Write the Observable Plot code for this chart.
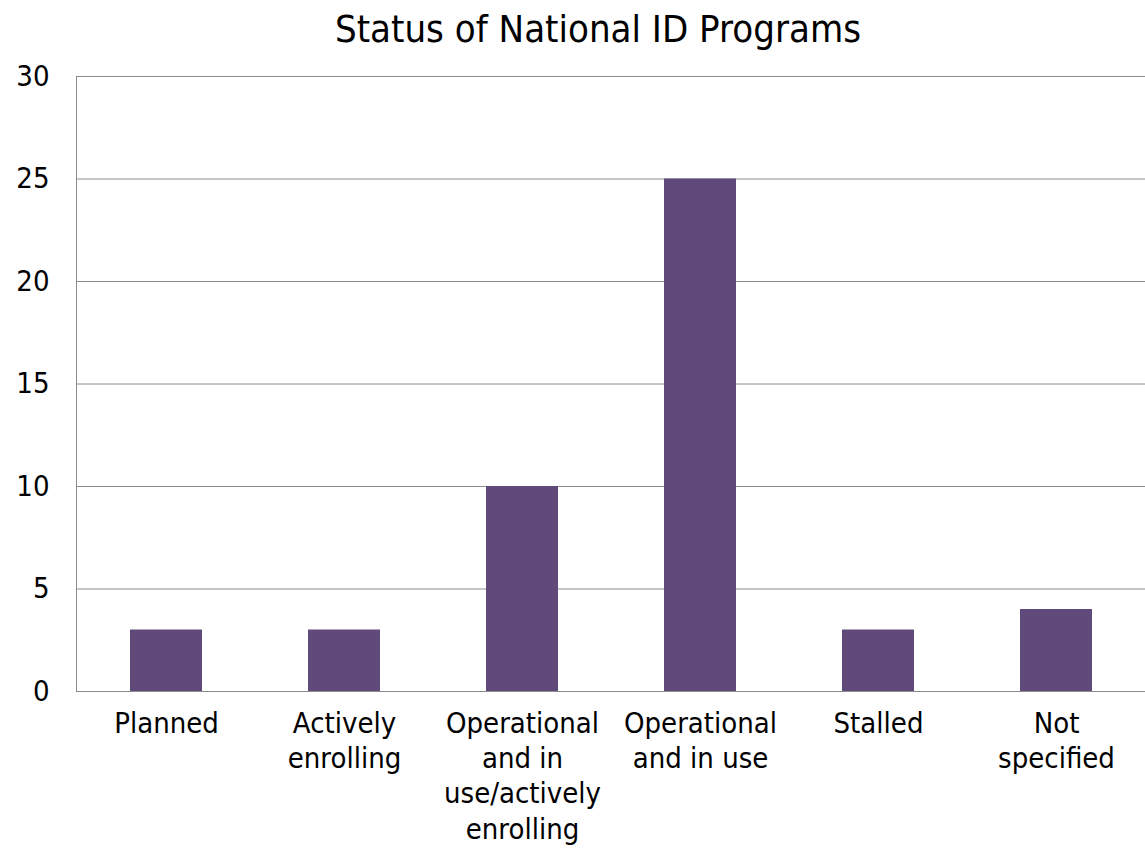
<!DOCTYPE html>
<html>
<head>
<meta charset="utf-8">
<script src="https://cdn.jsdelivr.net/npm/d3@7"></script>
<script src="https://cdn.jsdelivr.net/npm/@observablehq/plot@0.6"></script>
<style>
  html, body { margin: 0; padding: 0; background: #fff; }
  body { width: 1145px; height: 852px; overflow: hidden; font-family: "DejaVu Sans Condensed", "DejaVu Sans", sans-serif; font-stretch: condensed; }
  #title { height: 56px; line-height: 58px; font-size: 38px; text-align: center; padding-left: 51px; box-sizing: border-box; width: 1145px; color: #000; white-space: nowrap; }
</style>
</head>
<body>
<div id="title">Status of National ID Programs</div>
<div id="chart"></div>
<script>
const categories = ["Planned", "Actively enrolling", "Operational and in use/actively enrolling", "Operational and in use", "Stalled", "Not specified"];
const values = [3, 3, 10, 25, 3, 4];
const tickLabels = ["Planned", "Actively\nenrolling", "Operational\nand in\nuse/actively\nenrolling", "Operational\nand in use", "Stalled", "Not\nspecified"];
const yTicks = [0, 5, 10, 15, 20, 25, 30];

const data = categories.map((c, i) => ({category: c, value: values[i]}));
const labelOf = new Map(categories.map((c, i) => [c, tickLabels[i]]));

const chart = Plot.plot({
  width: 1145,
  height: 796,
  marginTop: 20,
  marginBottom: 161,
  marginLeft: 76,
  marginRight: 0,
  style: {fontFamily: '"DejaVu Sans Condensed", "DejaVu Sans", sans-serif', fontSize: "29px", color: "#000", background: "#fff", fontStretch: "condensed"},
  x: {domain: categories, paddingInner: 0.596, paddingOuter: 0.298, align: 0.5, label: null},
  y: {domain: [0, 30], label: null},
  marks: [
    Plot.ruleY(yTicks, {stroke: "#8c8c8c", strokeWidth: 1, strokeOpacity: 1}),
    Plot.frame({anchor: "left", stroke: "#8c8c8c", strokeOpacity: 1}),
    Plot.barY(data, {x: "category", y: "value", fill: "#604A7B"}),
    Plot.axisY({ticks: yTicks, tickSize: 0, tickPadding: 27, fontSize: 29, label: null}),
    Plot.axisX({tickSize: 0, tickPadding: 16, fontSize: 29, lineHeight: 1.22, tickFormat: d => labelOf.get(d), label: null})
  ]
});
document.getElementById("chart").appendChild(chart);
</script>
</body>
</html>
